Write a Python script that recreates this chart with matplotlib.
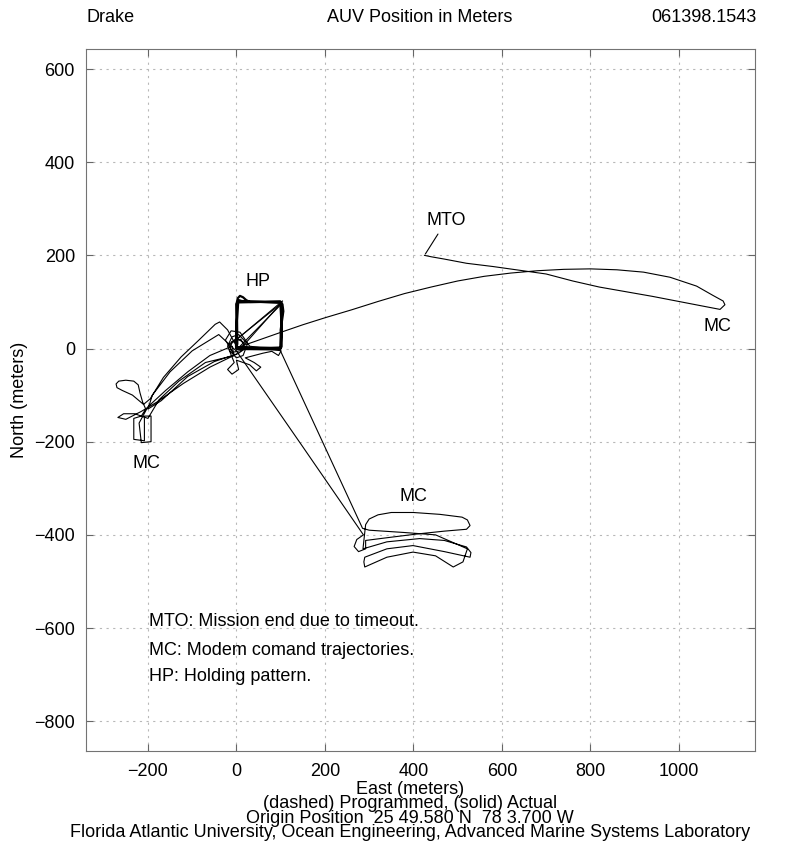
import matplotlib
matplotlib.use("Agg")
import matplotlib.pyplot as plt

plt.rcParams['font.family'] = ['Liberation Sans', 'DejaVu Sans']
plt.rcParams['font.size'] = 13

# --- track data (meters, east / north) ---

# outbound arc to the east, turn at the far end, back to mission end (MTO)
east_x = [5, 101, 150, 200, 260, 320, 380, 440, 500, 560, 620, 680, 740, 800, 860,
          920, 980, 1040, 1077, 1100, 1104, 1093, 1060, 1000, 940, 880, 820, 760,
          700, 640, 580, 520, 470, 440, 425]
east_y = [3, 35, 51, 66, 83, 101, 118, 132, 145, 155, 162, 167, 170, 171, 169,
          164, 153, 134, 114, 102, 94, 84, 90, 101, 112, 122, 132, 145,
          160, 168, 176, 183, 192, 197, 200]

# holding pattern box
hp_x = [0, 0, 3, 8, 15, 22, 30, 100, 104, 106, 103, 100, 100, 60, 0, 2, 1, 5, 12,
        101, 103, 102, 98, 2, -1, 1, 4, 99, 102, 100, 3]
hp_y = [0, 95, 108, 113, 110, 104, 100, 100, 95, 80, 60, 40, 2, 0, 2, 10, 97, 104,
        102, 98, 85, 4, -2, -1, 5, 60, 99, 101, 50, 1, 3]

# diagonals across the box
diag_x = [-15, 100, 104, -5, 0, 98, 103, 10]
diag_y = [8, 96, 102, 15, -3, 92, 100, 0]

# scribbles around the origin
center_x = [5, 20, 10, -10, -15, 0, 15, 25, 5, -10, -20, -5, -20, -10, 5, 0, 30, 45,
            55, 40, 20, 60, 80, 95, 101, 70, 30, 8, -12, -25, -8, 12, 18, 0, -18, -6]
center_y = [-10, 0, 20, 15, -5, -20, -15, 10, 30, 25, 5, -30, -45, -55, -45, -25,
            -35, -48, -40, -30, -20, -10, -6, -15, -5, 0, 5, 35, 38, 18, -8, -4, 12,
            22, 8, -12]

# runs to the modem-command area west of the origin
west_x = [0, -20, -38, -48, -85, -125, -165, -195, -210, -235, -258, -270, -272, -266,
          -250, -232, -222, -218, -212, -205, -215, -232, -232, -208, -208, -193, -193,
          -215, -220, -200, -160, -110, -60, -10, -5, -70, -130, -175, -200, -230,
          -255, -268, -250, -215, -180, -120, -60, 5, -40, -100, -150, -190, -200,
          -170, -110, -50, 0]
west_y = [5, 40, 57, 52, 18, -18, -62, -108, -120, -100, -90, -84, -76, -70,
          -68, -70, -78, -95, -115, -130, -145, -150, -195, -198, -145, -145, -200,
          -202, -160, -125, -90, -50, -15, 5, -15, -30, -70, -110, -150, -140,
          -140, -148, -152, -135, -115, -75, -40, -10, 30, -5, -50, -100, -130,
          -112, -60, -28, -12]

# runs to the modem-command area south-east, laps, and return
south_x = [2, 150, 287, 272, 266, 276, 292,
           292, 350, 410, 470, 520, 528, 522, 510,
           460, 400, 350, 320, 300, 292, 290,
           286, 340, 414, 470, 520, 530, 528,
           470, 399, 340, 290, 288,
           290, 340, 399, 450, 490, 512, 522,
           450, 380, 300, 285, 98]
south_y = [-8, -211, -400, -410, -425, -436, -430,
           -412, -405, -398, -392, -388, -380, -368, -362,
           -356, -352, -352, -357, -366, -378, -395,
           -430, -415, -408, -412, -426, -438, -448,
           -436, -423, -430, -448, -458,
           -469, -448, -437, -445, -469, -458, -430,
           -400, -395, -390, -386, -2]

# labels on the track
label_text = ['HP', 'MC', 'MC', 'MC']
label_x = [48, -204, 1088, 400]
label_y = [144, -247, 47, -318]

note_lines = ['MTO: Mission end due to timeout.',
              'MC: Modem comand trajectories.',
              'HP: Holding pattern.']
note_y = [-587, -648, -705]

bottom_lines = ['East (meters)',
                '(dashed) Programmed, (solid) Actual',
                'Origin Position  25 49.580 N  78 3.700 W',
                'Florida Atlantic University, Ocean Engineering, Advanced Marine Systems Laboratory']

xticks = [-200, 0, 200, 400, 600, 800, 1000]
yticks = [-800, -600, -400, -200, 0, 200, 400, 600]


def tick_text(v):
    return '\u2212' + str(-v) if v < 0 else str(v)


W, H = 787, 848
fig = plt.figure(figsize=(W / 100, H / 100), dpi=100)
ax = fig.add_axes([86 / W, 1 - 751 / H, (755 - 86) / W, (751 - 49) / H])

lw = 0.8
ax.plot(east_x, east_y, color='k', lw=lw)
ax.plot(hp_x, hp_y, color='k', lw=1.6)
for i in range(0, len(diag_x), 2):
    ax.plot(diag_x[i:i + 2], diag_y[i:i + 2], color='k', lw=lw)
ax.plot(center_x, center_y, color='k', lw=lw)
ax.plot(west_x, west_y, color='k', lw=lw)
ax.plot(south_x, south_y, color='k', lw=lw)

ax.annotate('MTO', xy=(427, 203), xytext=(475, 275), ha='center', va='center',
            arrowprops=dict(arrowstyle='-', lw=lw, color='k', shrinkA=2, shrinkB=0))
for t, x, y in zip(label_text, label_x, label_y):
    ax.text(x, y, t, ha='center', va='center')
for t, y in zip(note_lines, note_y):
    ax.text(-198, y, t, ha='left', va='center')

ax.set_xlim(-340, 1172)
ax.set_ylim(-864, 643)
ax.set_xticks(xticks)
ax.set_yticks(yticks)
ax.set_xticklabels([tick_text(v) for v in xticks])
ax.set_yticklabels([tick_text(v) for v in yticks])
ax.grid(True, linestyle=(0, (2, 4)), color='0.72', lw=0.8)
ax.tick_params(axis='x', direction='in', length=5, top=True, color='0.4', pad=9)
ax.tick_params(axis='y', direction='in', length=5, right=True, color='0.4', pad=8)
for s in ax.spines.values():
    s.set_color('0.45')
ax.set_ylabel('North (meters)', labelpad=4)

fig.text(86 / W, 1 - 18 / H, 'Drake', ha='left', va='center')
fig.text(420 / W, 1 - 18 / H, 'AUV Position in Meters', ha='center', va='center')
fig.text(757 / W, 1 - 18 / H, '061398.1543', ha='right', va='center')

# MATLAB-style multi-line x label
fig.text(410 / W, 1 - 781 / H, '\n'.join(bottom_lines), ha='center', va='top',
         linespacing=0.8)

fig.savefig('out.png', dpi=100)
